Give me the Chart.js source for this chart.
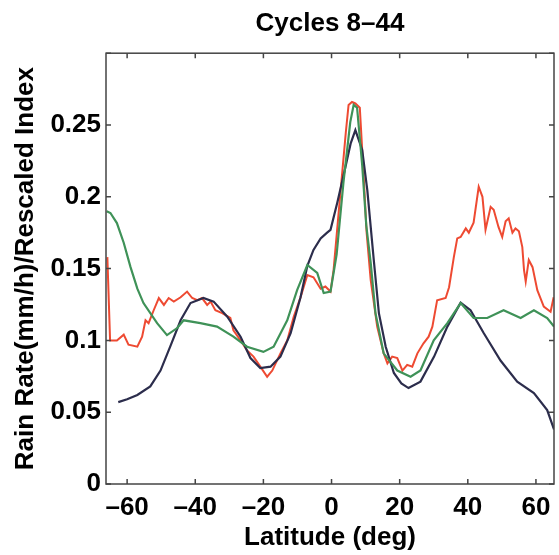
<!DOCTYPE html>
<html>
<head>
<meta charset="utf-8">
<script src="https://cdn.jsdelivr.net/npm/chart.js@4.4.1/dist/chart.umd.min.js"></script>
<style>
html,body{margin:0;padding:0;background:#fff;}
#wrap{width:559px;height:555px;}
</style>
</head>
<body>
<div id="wrap"><canvas id="c" width="559" height="555"></canvas></div>
<script>
// ---- data ----
const xTicks = [-60, -40, -20, 0, 20, 40, 60];
const yTicks = [0, 0.05, 0.1, 0.15, 0.2, 0.25];

const latRain = [-65.8,-65.0,-63,-61,-59.6,-57,-55.6,-54.6,-53.7,-52.2,-50.7,-49.2,-47.8,-46.3,-44.3,-42.4,-40.9,-39.4,-38,-36.5,-35.5,-34.1,-32.1,-29.7,-28.8,-26.7,-24.8,-22.9,-20.9,-18.9,-17.4,-15,-13,-11.1,-9.1,-7.1,-5.3,-3.2,-1.8,-0.3,0.6,2.5,4.2,5.0,6.0,7.0,8.3,9.3,10.3,11.5,13.4,15.3,16.4,17.8,19.3,20.8,22.2,23.7,25.2,27,28.5,29.6,31,33.5,34.5,35.9,36.9,37.9,39.4,40.3,41.7,43.2,44.3,45.2,46.7,47.6,49,50.1,51.1,52,53.1,54,55,56,56.5,57,57.9,59,60.4,62.3,64.3,65.2];
const rain    = [0.158,0.100,0.100,0.104,0.097,0.0956,0.1026,0.114,0.112,0.121,0.1295,0.1247,0.1295,0.127,0.130,0.134,0.1295,0.128,0.1295,0.1247,0.127,0.121,0.119,0.1156,0.107,0.100,0.093,0.0887,0.0817,0.0747,0.079,0.091,0.100,0.1165,0.130,0.1455,0.144,0.136,0.1375,0.134,0.149,0.200,0.245,0.264,0.266,0.265,0.262,0.220,0.175,0.142,0.1096,0.091,0.084,0.0887,0.0877,0.079,0.083,0.0817,0.091,0.098,0.1026,0.1096,0.128,0.1295,0.137,0.158,0.171,0.172,0.178,0.175,0.182,0.207,0.200,0.177,0.193,0.191,0.179,0.172,0.183,0.185,0.175,0.178,0.176,0.165,0.149,0.141,0.156,0.151,0.135,0.1235,0.120,0.130];

const latIndexA = [-66,-64.9,-63,-61,-59,-57,-55.2,-51.2,-48.3,-45.3,-43.4,-38.5,-33.6,-28.8,-24.8,-20,-17,-13,-10.1,-7.1,-4.2,-2.3,-0.3,1.5,3.5,5.5,6.5,7.5,9.0,10.2,11.5,12.9,15.3,19.3,23.2,26.1,30.0,34.0,37.9,41.7,45.7,50.5,55.5,59.4,63.3,65.3];
const indexA    = [0.190,0.1887,0.1817,0.168,0.151,0.136,0.126,0.112,0.1037,0.1086,0.114,0.112,0.1096,0.1026,0.0956,0.092,0.0956,0.114,0.135,0.1525,0.147,0.133,0.134,0.160,0.210,0.252,0.264,0.262,0.222,0.180,0.154,0.119,0.091,0.079,0.0747,0.079,0.100,0.112,0.126,0.1156,0.1156,0.121,0.1156,0.121,0.1156,0.1096];

const latIndexB = [-62.6,-60,-57,-53.2,-50.2,-47.3,-44.3,-41.4,-37.6,-34.6,-30.6,-26.7,-23.8,-20.9,-17.9,-15,-12,-9.1,-7.1,-5.3,-3.2,-1.3,-0.3,1.7,4.1,5.6,7.0,9.0,10.5,12.4,13.9,15.9,18.3,20.5,22.6,26.1,30.1,34.0,37.9,40.8,44.7,49.6,54.5,59.4,63.3,65.3];
const indexB    = [0.057,0.059,0.062,0.068,0.079,0.096,0.114,0.126,0.1295,0.127,0.1165,0.1026,0.0877,0.0808,0.0817,0.0887,0.105,0.130,0.152,0.163,0.171,0.175,0.177,0.196,0.221,0.237,0.2465,0.2326,0.2047,0.156,0.119,0.0956,0.0773,0.070,0.0668,0.0713,0.0887,0.1096,0.1263,0.121,0.105,0.086,0.0713,0.0633,0.0515,0.038];

function pts(xs, ys){ return xs.map((x,i)=>({x:x, y:ys[i]})); }

const FONT = "'Liberation Sans', Arial, Helvetica, sans-serif";

const frame = {
  id: 'frame',
  afterDatasetsDraw(chart){
    const {ctx, chartArea:a, scales} = chart;
    ctx.save();
    ctx.strokeStyle = '#444';
    ctx.lineWidth = 1.5;
    ctx.strokeRect(a.left, a.top, a.right - a.left, a.bottom - a.top);
    const L = 5;
    ctx.beginPath();
    xTicks.forEach(v=>{
      const px = scales.x.getPixelForValue(v);
      ctx.moveTo(px, a.bottom); ctx.lineTo(px, a.bottom - L);
      ctx.moveTo(px, a.top); ctx.lineTo(px, a.top + L);
    });
    yTicks.concat([0.3]).forEach(v=>{
      const py = scales.y.getPixelForValue(v);
      ctx.moveTo(a.left, py); ctx.lineTo(a.left + L, py);
      ctx.moveTo(a.right, py); ctx.lineTo(a.right - L, py);
    });
    ctx.stroke();
    ctx.restore();
  }
};

new Chart(document.getElementById('c'), {
  type: 'line',
  data: {
    datasets: [
      { label: 'Index A', data: pts(latIndexA, indexA), borderColor: '#3f9258', borderWidth: 2.2 },
      { label: 'Index B', data: pts(latIndexB, indexB), borderColor: '#2c2d4c', borderWidth: 2.2 },
      { label: 'Rain rate', data: pts(latRain, rain), borderColor: '#ee4a32', borderWidth: 2 }
    ]
  },
  options: {
    responsive: false,
    animation: false,
    events: [],
    elements: { point: { radius: 0 }, line: { tension: 0, fill: false } },
    layout: { padding: { left: 0, right: 5, top: 0, bottom: 0 } },
    plugins: {
      legend: { display: false },
      tooltip: { enabled: false },
      title: {
        display: true,
        fullSize: false,
        text: 'Cycles 8\u201344',
        color: '#000',
        font: { family: FONT, size: 26, weight: 'bold' },
        padding: { top: 8, bottom: 14 }
      }
    },
    scales: {
      x: {
        type: 'linear',
        min: -66.2, max: 65.3,
        afterBuildTicks: s => { s.ticks = xTicks.map(v=>({value:v})); },
        afterFit: s => { s.height = 71; },
        grid: { display: false, drawTicks: false },
        border: { display: false },
        ticks: {
          color: '#000', padding: 8,
          font: { family: FONT, size: 26, weight: 'bold' },
          callback: v => (v < 0 ? '\u2013' + Math.abs(v) : String(v))
        },
        title: {
          display: true, text: 'Latitude (deg)', color: '#000',
          font: { family: FONT, size: 26, weight: 'bold' },
          padding: { top: 0, bottom: 2 }
        }
      },
      y: {
        type: 'linear',
        min: 0, max: 0.3,
        afterBuildTicks: s => { s.ticks = yTicks.map(v=>({value:v})); },
        afterFit: s => { s.width = 106; },
        grid: { display: false, drawTicks: false },
        border: { display: false },
        ticks: {
          color: '#000', padding: 5,
          font: { family: FONT, size: 26, weight: 'bold' },
          callback: v => String(+v.toFixed(2))
        },
        title: {
          display: true, text: 'Rain Rate(mm/h)/Rescaled Index', color: '#000',
          font: { family: FONT, size: 26, weight: 'bold' },
          padding: { top: 10, bottom: 0 }
        }
      }
    }
  },
  plugins: [frame]
});
</script>
</body>
</html>
